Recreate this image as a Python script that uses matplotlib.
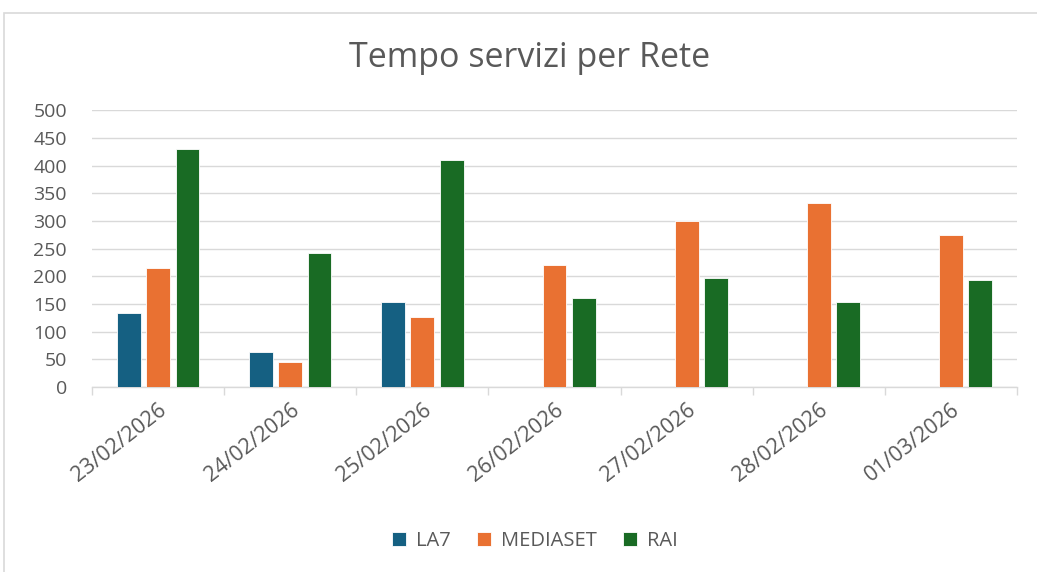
import matplotlib
matplotlib.use("Agg")
import matplotlib.pyplot as plt
from matplotlib.patches import Rectangle
import numpy as np

categories = ["23/02/2026", "24/02/2026", "25/02/2026", "26/02/2026",
              "27/02/2026", "28/02/2026", "01/03/2026"]
la7 = [133, 63, 153, 0, 0, 0, 0]
mediaset = [215, 46, 126, 220, 300, 332, 274]
rai = [431, 243, 410, 161, 197, 154, 194]
series_names = ["LA7", "MEDIASET", "RAI"]
colors = ["#156082", "#E97132", "#196B24"]
y_ticks = [0, 50, 100, 150, 200, 250, 300, 350, 400, 450, 500]

plt.rcParams['font.family'] = ['Open Sans', 'DejaVu Sans']
text_color = "#595959"

fig = plt.figure(figsize=(10.37, 5.72), dpi=100)
fig.patches.append(Rectangle((4/1037, -0.05), 1.1, 1 - 13/572 + 0.05,
                             transform=fig.transFigure, fill=False,
                             edgecolor="#D9D9D9", linewidth=1.2))
ax = fig.add_axes([92/1037, 1 - 387/572, (1017-92)/1037, (387-110.5)/572])

x = np.arange(len(categories))
w = 0.18
step = 0.222
for i, (vals, name, c) in enumerate(zip([la7, mediaset, rai], series_names, colors)):
    ax.bar(x + (i - 1) * step, vals, width=w, color=c, edgecolor="white",
           linewidth=0.6, label=name, zorder=3)

ax.set_xlim(-0.5, len(categories) - 0.5)
ax.set_ylim(0, 500)
ax.set_yticks(y_ticks)
ax.set_yticklabels([str(v) for v in y_ticks], fontsize=14, color=text_color)
ax.tick_params(axis='y', length=0, pad=18)
ax.yaxis.grid(True, color="#D9D9D9", linewidth=1.0, zorder=0)
ax.set_axisbelow(True)

ax.set_xticks(x)
ax.set_xticklabels(categories, rotation=38, ha='right', rotation_mode='anchor',
                   fontsize=15.5, color=text_color)
ax.tick_params(axis='x', which='major', length=0, pad=9)
ax.set_xticks(np.arange(-0.5, len(categories), 1.0), minor=True)
ax.tick_params(axis='x', which='minor', length=6, color="#D9D9D9", width=1.0)

for s in ["top", "right", "left"]:
    ax.spines[s].set_visible(False)
ax.spines["bottom"].set_color("#D9D9D9")
ax.spines["bottom"].set_linewidth(1.0)

fig.text(530/1037, 1 - 58/572, "Tempo servizi per Rete", ha='center', va='center',
         fontsize=24.5, color=text_color)

leg = fig.legend(loc='center', bbox_to_anchor=(535/1037, 1 - 541/572), ncol=3,
                 frameon=False, fontsize=14.5, handlelength=0.7, handleheight=0.7,
                 columnspacing=1.3, handletextpad=0.5)
for t in leg.get_texts():
    t.set_color(text_color)

fig.savefig("out.png", dpi=100)
